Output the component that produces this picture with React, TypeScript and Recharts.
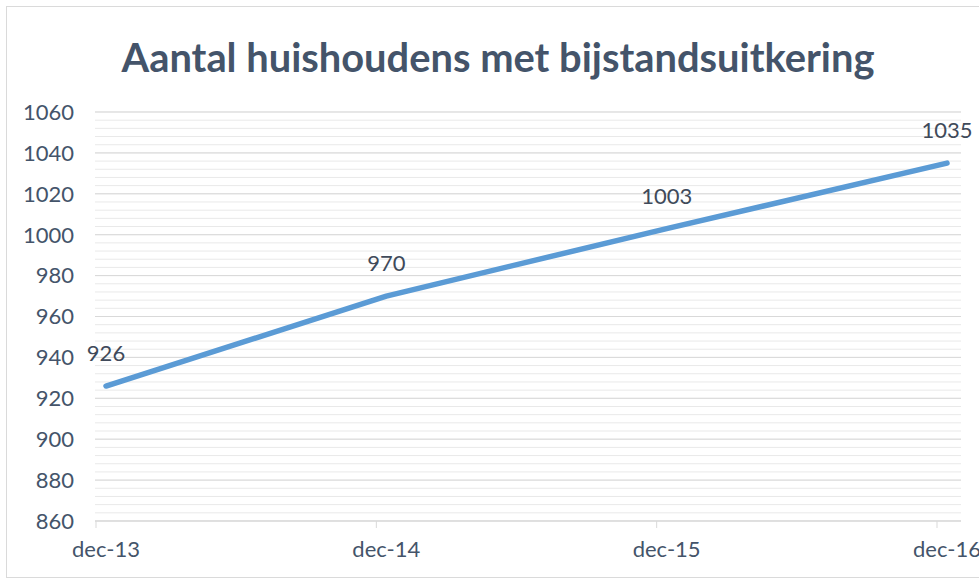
import React from 'react';
import { LineChart, Line, XAxis, YAxis, CartesianGrid, LabelList } from 'recharts';

const months = ['dec-13', 'dec-14', 'dec-15', 'dec-16'];
const households = [926, 970, 1003, 1035];
const yTicks = [860, 880, 900, 920, 940, 960, 980, 1000, 1020, 1040, 1060];
const minorTicks = [
  860, 864, 868, 872, 876, 880, 884, 888, 892, 896, 900, 904, 908, 912, 916, 920, 924,
  928, 932, 936, 940, 944, 948, 952, 956, 960, 964, 968, 972, 976, 980, 984, 988, 992,
  996, 1000, 1004, 1008, 1012, 1016, 1020, 1024, 1028, 1032, 1036, 1040, 1044, 1048,
  1052, 1056, 1060,
];
const title = 'Aantal huishoudens met bijstandsuitkering';

const data = months.map((m, i) => ({ month: m, value: households[i] }));

const FONT = 'Lato, "Open Sans", sans-serif';
const TEXT = '#44546A';

const XTick = (props: any) => {
  const { x, y, payload } = props;
  return (
    <g>
      <line x1={x - 10} x2={x - 10} y1={y} y2={y + 7} stroke="#D9D9D9" strokeWidth={1} />
      <text x={x} y={y + 36} textAnchor="middle" fill={TEXT} fontSize={22} fontFamily={FONT}>
        {payload.value}
      </text>
    </g>
  );
};

export default function App() {
  return (
    <div
      style={{
        position: 'absolute',
        left: 0,
        top: 0,
        width: 979,
        height: 581,
        overflow: 'hidden',
        background: '#fff',
      }}
    >
      <div
        style={{
          position: 'absolute',
          left: 6,
          top: 6,
          width: 990,
          height: 572,
          border: '1px solid #DADADA',
          boxSizing: 'border-box',
        }}
      />
      <svg
        width={979}
        height={100}
        style={{ position: 'absolute', left: 0, top: 0 }}
      >
        <text
          x={498}
          y={72}
          textAnchor="middle"
          fontFamily={FONT}
          fontWeight={700}
          fontSize={40}
          fill={TEXT}
          textLength={753}
          lengthAdjust="spacingAndGlyphs"
        >
          {title}
        </text>
      </svg>
      <div style={{ position: 'absolute', left: 0, top: 0 }}>
        <LineChart
          width={979}
          height={581}
          data={data}
          margin={{ top: 112, right: 18, bottom: 20, left: 0 }}
        >
          <CartesianGrid
            vertical={false}
            horizontalValues={minorTicks}
            stroke="#E9E9E9"
            strokeWidth={1}
          />
          <CartesianGrid vertical={false} stroke="#D9D9D9" strokeWidth={1} />
          <XAxis
            dataKey="month"
            padding={{ left: 11, right: 14 }}
            axisLine={{ stroke: '#D9D9D9', strokeWidth: 1 }}
            tickLine={false}
            tickSize={0}
            tickMargin={0}
            height={40}
            interval={0}
            tick={<XTick />}
          />
          <YAxis
            domain={[860, 1060]}
            ticks={yTicks}
            interval={0}
            axisLine={false}
            tickLine={false}
            tickSize={0}
            tickMargin={21}
            width={95}
            tick={{ fill: TEXT, fontSize: 22, fontFamily: FONT }}
          />
          <Line
            type="linear"
            dataKey="value"
            stroke="#5B9BD5"
            strokeWidth={5.5}
            strokeLinecap="round"
            strokeLinejoin="round"
            dot={false}
            activeDot={false}
            isAnimationActive={false}
          >
            <LabelList
              dataKey="value"
              position="top"
              offset={25}
              fill="#404A5A"
              fontSize={22}
              fontFamily={FONT}
            />
          </Line>
        </LineChart>
      </div>
    </div>
  );
}
